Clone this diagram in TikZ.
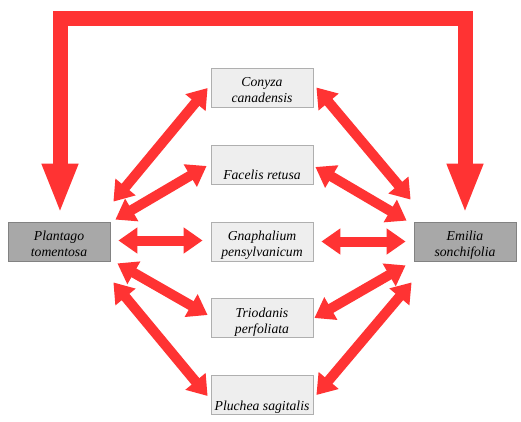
\documentclass[tikz,border=0pt]{standalone}
\usepackage{fontspec}
\setmainfont{Liberation Serif}
\usetikzlibrary{arrows.meta}
\definecolor{arrred}{RGB}{255,51,51}
\definecolor{lightbox}{RGB}{238,238,238}
\definecolor{lightedge}{RGB}{175,175,175}
\definecolor{darkbox}{RGB}{168,168,168}
\definecolor{darkedge}{RGB}{130,130,130}
\begin{document}
\begin{tikzpicture}[x=1pt,y=-1pt,
  box/.style={draw=lightedge,fill=lightbox,line width=0.8pt,minimum width=102pt,minimum height=39pt,inner sep=0pt,text height=34.5pt,text depth=4.5pt,align=center,font=\fontsize{13.7}{16}\selectfont\itshape},
  darkbox/.style={box,draw=darkedge,fill=darkbox},
  dbl/.style={draw=arrred,line width=10pt,{Triangle[width=25pt,length=19pt]}-{Triangle[width=25pt,length=19pt]}},
  bigarrow/.style={draw=arrred,line width=15pt,line join=miter,{Triangle[width=33pt,length=50pt]}-{Triangle[width=33pt,length=50pt]}}]
\fill[white] (0,0) rectangle (521,422);
\useasboundingbox (0,0) rectangle (521,422);
\node[box] (conyza) at (262,87.5) {Conyza\\canadensis};
\node[box] (facelis) at (262,164.5) {Facelis retusa};
\node[box] (gnaph) at (262,241.5) {Gnaphalium\\pensylvanicum};
\node[box] (triod) at (262,318) {Triodanis\\perfoliata};
\node[box] (pluchea) at (262,395) {Pluchea sagitalis};
\node[darkbox] (plantago) at (59,241.5) {Plantago\\tomentosa};
\node[darkbox] (emilia) at (465,241.5) {Emilia\\sonchifolia};
\coordinate (top) at (262,19);
\draw[bigarrow] ([shift={(1,-8)}]plantago.north) |- (top) -| ([shift={(0,-8)}]emilia.north);
% left side
\draw[dbl] ([shift={(-3,0.5)}]conyza.west) -- ([shift={(3,-20)}]plantago.north east);
\draw[dbl] ([shift={(-4,1.5)}]facelis.west) -- ([shift={(5,-2)}]plantago.north east);
\draw[dbl] ([shift={(-8,-1)}]gnaph.west) -- ([shift={(8,-1)}]plantago.east);
\draw[dbl] ([shift={(-3,-3)}]triod.west) -- ([shift={(7,2)}]plantago.south east);
\draw[dbl] ([shift={(-3,1)}]pluchea.west) -- ([shift={(3,21)}]plantago.south east);
% right side
\draw[dbl] ([shift={(3,0)}]conyza.east) -- ([shift={(-3,-22)}]emilia.north west);
\draw[dbl] ([shift={(2,2.5)}]facelis.east) -- ([shift={(-7,-1)}]emilia.north west);
\draw[dbl] ([shift={(8,0)}]gnaph.east) -- ([shift={(-8,0)}]emilia.west);
\draw[dbl] ([shift={(1,0)}]triod.east) -- ([shift={(-8,4)}]emilia.south west);
\draw[dbl] ([shift={(3,0)}]pluchea.east) -- ([shift={(-2,21)}]emilia.south west);
\end{tikzpicture}
\end{document}
